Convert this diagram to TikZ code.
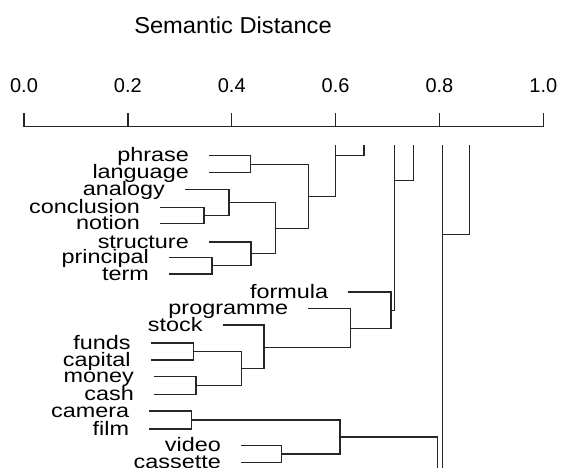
\documentclass[tikz,border=0pt]{standalone}
\usepackage{fontspec}
\setmainfont{Liberation Sans}
\newfontfamily\labfam[FakeStretch=1.2]{Liberation Sans}
\newfontfamily\titfam[FakeStretch=1.03]{Liberation Sans}
\begin{document}
\begin{tikzpicture}[x=1pt,y=-1pt,
  lab/.style={anchor=base east, inner sep=0pt, font=\labfam\fontsize{19.5}{20}\selectfont},
  ticklab/.style={anchor=base, inner sep=0pt, font=\fontsize{20}{22}\selectfont},
  titlelab/.style={anchor=base, inner sep=0pt, font=\titfam\fontsize{23}{25}\selectfont},
  tree/.style={line width=1.3pt, draw=black!85}]
\useasboundingbox (0,0) rectangle (562,468);
% title and axis
\node[titlelab] (title) at (233,33.3) {Semantic Distance};
\foreach \i/\t in {0/0.0,1/0.2,2/0.4,3/0.6,4/0.8,5/1.0}{
  \coordinate (A\i) at ({24+103.86*\i},126.7);
  \coordinate (U\i) at ({24+103.86*\i},113.3);
  \node[ticklab] (L\i) at ({24+103.86*\i},92.3) {\t};
}
\draw[tree] (A0) -- (A5);
\foreach \i in {0,...,5}{ \draw[tree] (A\i) -- (U\i); }
% leaf line starts
\coordinate (phrase0) at (209,155.7);
\coordinate (language0) at (209,172.7);
\coordinate (analogy0) at (185,189.3);
\coordinate (conclusion0) at (160,207.7);
\coordinate (notion0) at (160,223.7);
\coordinate (structure0) at (209,242);
\coordinate (principal0) at (169,257.3);
\coordinate (term0) at (169,274);
\coordinate (formula0) at (348.3,292);
\coordinate (programme0) at (308.3,308.7);
\coordinate (stock0) at (222.7,325);
\coordinate (funds0) at (150.7,343);
\coordinate (capital0) at (150.7,360);
\coordinate (money0) at (154,376.7);
\coordinate (cash0) at (154,394.3);
\coordinate (camera0) at (149.3,411);
\coordinate (film0) at (149.3,429);
\coordinate (video0) at (241,445.7);
\coordinate (cassette0) at (241,462.3);
% labels
\foreach \w in {phrase,language,analogy,conclusion,notion,structure,principal,term,formula,programme,stock,funds,capital,money,cash,camera,film,video,cassette}{
  \node[lab] (\w) at ([shift={(-20,6)}]\w0) {\w};
}
% joins
\coordinate (J1) at (250.5,164.2);
\coordinate (J2) at (204,215.7);
\coordinate (J3) at (229,202.5);
\coordinate (J7) at (212,265.7);
\coordinate (J6) at (251,253.8);
\coordinate (J4) at (275.3,228.2);
\coordinate (J5) at (308.7,196.2);
\coordinate (JFC) at (193.3,351.5);
\coordinate (JMo) at (196,385.5);
\coordinate (JMC) at (241.7,368.5);
\coordinate (JS) at (264,347.2);
\coordinate (JP) at (350.7,328.2);
\coordinate (JF) at (391,310.2);
\coordinate (JC) at (191.7,420);
\coordinate (JV) at (281.7,454);
\coordinate (JCV) at (340,437);
% tops
\coordinate (T1) at (335.7,145);
\coordinate (T2) at (364,145);
\coordinate (T3) at (394.3,145);
\coordinate (T4) at (413.7,145);
\coordinate (T5) at (442.3,145);
\coordinate (T6) at (469.3,145);
\coordinate (B1) at (364,155.7);
\coordinate (B2) at (413.7,180.3);
\coordinate (B3) at (469.3,234.7);
\coordinate (E1) at (437.7,468);
\coordinate (E2) at (442.3,468);
% tree edges
\foreach \a/\b/\p in {phrase0/language0/J1, conclusion0/notion0/J2, analogy0/J2/J3,
  principal0/term0/J7, structure0/J7/J6, J3/J6/J4, J1/J4/J5,
  funds0/capital0/JFC, money0/cash0/JMo, JFC/JMo/JMC, stock0/JMC/JS,
  programme0/JS/JP, formula0/JP/JF,
  camera0/film0/JC, video0/cassette0/JV, JC/JV/JCV}{
  \draw[tree] (\a) -- (\a -| \p) -- (\b -| \p) -- (\b);
}
\draw[tree] (J5) -| (T1);
\draw[tree] (T2) -- (B1) -- (B1 -| T1);
\draw[tree] (JF) -| (T3);
\draw[tree] (T4) -- (B2) -- (B2 -| T3);
\draw[tree] (T5) -- (E2);
\draw[tree] (T6) -- (B3) -- (B3 -| T5);
\draw[tree] (JCV) -| (E1);
\end{tikzpicture}
\end{document}
